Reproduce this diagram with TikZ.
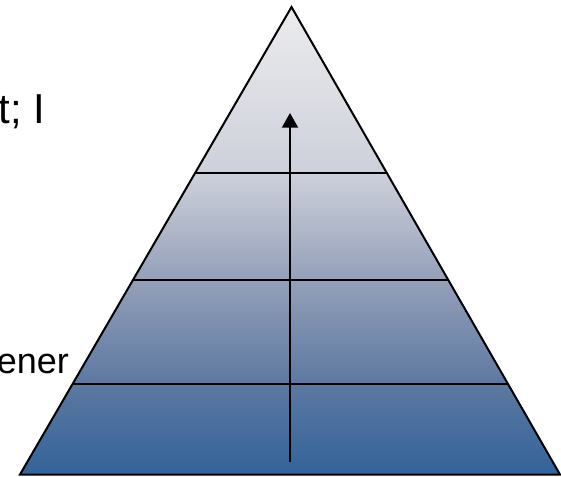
\documentclass[tikz,border=0pt]{standalone}
\usepackage{fontspec}
\setmainfont{Liberation Sans}
\usetikzlibrary{arrows.meta,calc}
\definecolor{gA}{RGB}{50,99,154}
\definecolor{gB}{RGB}{92,120,160}
\definecolor{gC}{RGB}{148,160,185}
\definecolor{gD}{RGB}{205,208,218}
\definecolor{gE}{RGB}{236,236,238}
\pgfdeclareverticalshading{pyrshade}{100bp}{color(0bp)=(gA); color(25bp)=(gA); color(34.6bp)=(gB); color(45.8bp)=(gC); color(57.2bp)=(gD); color(75bp)=(gE); color(100bp)=(gE)}
\begin{document}
\begin{tikzpicture}[x=0.75pt,y=0.75pt,
  edgeline/.style={line width=1.5pt},
  outline/.style={line width=1.5pt, line join=miter},
  uparrow/.style={line width=1.5pt, -{Triangle[length=11pt,width=12pt]}},
  bigtext/.style={inner sep=0pt, anchor=base west, text=black}]
\useasboundingbox (0,0) rectangle (561,-476);
\coordinate (A) at (291.5,-7);
\coordinate (L) at (20,-474.5);
\coordinate (R) at (560,-474.5);
\shade[shading=pyrshade] (A) -- (L) -- (R) -- cycle;
\coordinate (l1) at ($(A)!0.3551!(L)$);
\coordinate (r1) at ($(A)!0.3551!(R)$);
\coordinate (l2) at ($(A)!0.5840!(L)$);
\coordinate (r2) at ($(A)!0.5840!(R)$);
\coordinate (l3) at ($(A)!0.8064!(L)$);
\coordinate (r3) at ($(A)!0.8064!(R)$);
\draw[edgeline] (l1) -- (r1);
\draw[edgeline] (l2) -- (r2);
\draw[edgeline] (l3) -- (r3);
\coordinate (ab) at (290,-462);
\coordinate (at) at (290,-113);
\draw[uparrow] (ab) -- (at);
\draw[outline] (A) -- (L) -- (R) -- cycle;
\node[bigtext, font=\fontsize{31.4pt}{36pt}\selectfont] (t1) at (-1.5,-123) {t; I};
\node[bigtext, font=\fontsize{27pt}{32pt}\selectfont] (t2) at (-3.5,-373) {ener};
\end{tikzpicture}
\end{document}
